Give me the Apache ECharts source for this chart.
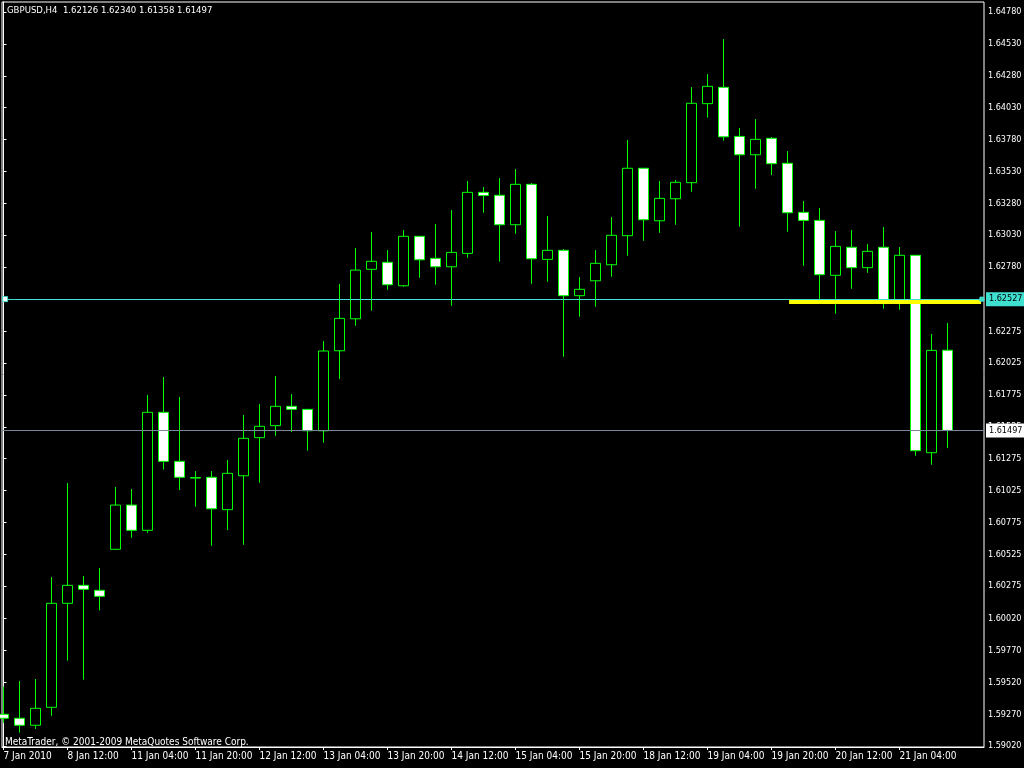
<!DOCTYPE html>
<html>
<head>
<meta charset="utf-8">
<script src="https://cdn.jsdelivr.net/npm/echarts@6/dist/echarts.min.js"></script>
<style>
html,body{margin:0;padding:0;background:#000;}
#chart{width:1024px;height:768px;}
</style>
</head>
<body>
<div id="chart"></div>
<script>
// GBPUSD H4 bars: index, open, close, low, high
const barIndex = [];
for (let i = 0; i < 60; i++) barIndex.push(i);
const opens = [1.59269,1.59238,1.59183,1.59324,1.60140,1.60281,1.60242,1.60564,1.60911,1.60713,
  1.61639,1.61254,1.61127,1.61129,1.60875,1.61141,1.61440,1.61534,1.61686,1.61662,
  1.61494,1.62122,1.62373,1.62761,1.62816,1.62632,1.63020,1.62847,1.62781,1.62886,
  1.63365,1.63342,1.63111,1.63428,1.62839,1.62910,1.62554,1.62671,1.62797,1.63025,
  1.63554,1.63142,1.63315,1.63441,1.64061,1.64189,1.63804,1.63660,1.63789,1.63593,
  1.63208,1.63145,1.62714,1.62934,1.62774,1.62934,1.62516,1.62871,1.61322,1.62126];
const closes = [1.59238,1.59183,1.59316,1.60140,1.60281,1.60250,1.60195,1.60911,1.60713,1.61639,
  1.61254,1.61129,1.61123,1.60882,1.61160,1.61435,1.61529,1.61686,1.61662,1.61494,
  1.62120,1.62376,1.62755,1.62824,1.62640,1.63020,1.62836,1.62781,1.62894,1.63365,
  1.63340,1.63111,1.63428,1.62844,1.62910,1.62554,1.62604,1.62808,1.63028,1.63554,
  1.63150,1.63318,1.63444,1.64064,1.64197,1.63801,1.63660,1.63781,1.63590,1.63205,
  1.63145,1.62719,1.62941,1.62774,1.62902,1.62516,1.62871,1.61338,1.62125,1.61497];
const lows = [1.59201,1.59125,1.59154,1.59258,1.59690,1.59541,1.60085,1.60558,1.60655,1.60694,
  1.61190,1.61029,1.60898,1.60592,1.60715,1.60600,1.61086,1.61455,1.61484,1.61338,
  1.61400,1.61900,1.62318,1.62436,1.62601,1.62624,1.62695,1.62640,1.62475,1.62852,
  1.63205,1.62821,1.63040,1.62648,1.62664,1.62075,1.62389,1.62467,1.62703,1.62868,
  1.62985,1.63048,1.63111,1.63370,1.63951,1.63770,1.63095,1.63393,1.63501,1.63056,
  1.62789,1.62520,1.62413,1.62609,1.62734,1.62452,1.62444,1.61298,1.61228,1.61358];
const highs = [1.59486,1.59530,1.59546,1.60346,1.61084,1.60354,1.60417,1.61053,1.61037,1.61775,
  1.61916,1.61759,1.61178,1.61178,1.61265,1.61618,1.61704,1.61924,1.61782,1.61666,
  1.62198,1.62646,1.62928,1.63054,1.62912,1.63069,1.63022,1.63116,1.63226,1.63454,
  1.63407,1.63477,1.63548,1.63438,1.63179,1.62920,1.62700,1.62912,1.63171,1.63776,
  1.63556,1.63454,1.63462,1.64191,1.64293,1.64568,1.63870,1.63940,1.63799,1.63689,
  1.63297,1.63242,1.63061,1.63069,1.62959,1.63093,1.62936,1.62873,1.62253,1.62340];

// Time axis labels (every 4 bars)
const timeLabelBars = [0,4,8,12,16,20,24,28,32,36,40,44,48,52,56];
const timeLabels = ['7 Jan 2010','8 Jan 12:00','11 Jan 04:00','11 Jan 20:00','12 Jan 12:00',
  '13 Jan 04:00','13 Jan 20:00','14 Jan 12:00','15 Jan 04:00','15 Jan 20:00',
  '18 Jan 12:00','19 Jan 04:00','19 Jan 20:00','20 Jan 12:00','21 Jan 04:00'];

// Price tick labels
const priceTicks = [1.64780,1.64530,1.64280,1.64030,1.63780,1.63530,1.63280,1.63030,1.62780,
  1.62275,1.62025,1.61775,1.61525,1.61275,1.61025,1.60775,1.60525,1.60275,1.60020,
  1.59770,1.59520,1.59270,1.59020];

// Horizontal levels
const levelLine = 1.62527;
const bidLine = 1.61497;
const yellowLevel = 1.62505;
const yellowFrom = 49.1, yellowTo = 61.1;

const symbolName = 'GBPUSD,H4';
const copyright = 'MetaTrader, \u00a9 2001-2009 MetaQuotes Software Corp.';

const ohlc = barIndex.map((x, i) => [x, opens[i], closes[i], lows[i], highs[i]]);
const last = ohlc.length - 1;
const headerText = symbolName + '  ' + opens[last].toFixed(5) + ' ' + highs[last].toFixed(5) + ' ' +
  lows[last].toFixed(5) + ' ' + closes[last].toFixed(5);

const GREEN = '#00ff00';
const CYAN = '#40e0d0';
const GRAY = '#778899';
const FONT = '"DejaVu Sans Condensed", "DejaVu Sans", "Liberation Sans", sans-serif';
const NARROW = '"DejaVu Sans Condensed", "Liberation Sans", sans-serif';

const xMin = -0.09375;
const xMax = xMin + 982 / 16;

const chart = echarts.init(document.getElementById('chart'), null, {renderer: 'canvas'});
chart.setOption({
  backgroundColor: '#000000',
  animation: false,
  title: [
    {text: headerText, left: 7, top: 6, padding: 0,
     textStyle: {color: '#ffffff', fontSize: 9.5, fontWeight: 'normal', fontFamily: FONT}},
    {text: copyright, left: 5, top: 737, padding: 0,
     textStyle: {color: '#ffffff', fontSize: 10, fontWeight: 'normal', fontFamily: NARROW}}
  ],
  grid: {left: 2, right: 40, top: 2, bottom: 21, outerBoundsMode: 'none', containLabel: false,
         show: true, borderColor: '#ffffff', borderWidth: 1, backgroundColor: 'transparent'},
  xAxis: {
    type: 'value', min: xMin, max: xMax,
    splitLine: {show: false},
    axisLine: {show: true, onZero: false, lineStyle: {color: '#ffffff', width: 1}},
    axisTick: {show: true, length: 3, lineStyle: {color: '#ffffff'}, customValues: timeLabelBars},
    axisLabel: {
      color: '#ffffff', fontSize: 10, fontFamily: NARROW, margin: 4, align: 'left',
      customValues: timeLabelBars, showMinLabel: true, showMaxLabel: true,
      formatter: function (v) { const k = timeLabelBars.indexOf(Math.round(v)); return k >= 0 ? timeLabels[k] : ''; }
    }
  },
  yAxis: {
    type: 'value', position: 'right', min: 1.590125, max: 1.648588, scale: true,
    splitLine: {show: false},
    axisLine: {show: true, lineStyle: {color: '#ffffff', width: 1}},
    axisTick: {show: true, length: 3, lineStyle: {color: '#ffffff'}, customValues: priceTicks},
    axisLabel: {
      color: '#ffffff', fontSize: 9, fontFamily: FONT, margin: 4,
      customValues: priceTicks, showMinLabel: true, showMaxLabel: true,
      formatter: function (v) { return v.toFixed(5); }
    }
  },
  series: [{
    type: 'candlestick',
    data: ohlc,
    encode: {x: 0, y: [1, 2, 3, 4]},
    barWidth: 10,
    clip: true,
    itemStyle: {
      color: '#000000', color0: '#ffffff',
      borderColor: GREEN, borderColor0: GREEN, borderColorDoji: GREEN, borderWidth: 1
    },
    markLine: {
      silent: true, symbol: 'none', animation: false,
      data: [
        [{coord: [xMin, levelLine], lineStyle: {color: CYAN, width: 1, type: 'solid'},
          label: {show: true, position: 'end', distance: 2, formatter: levelLine.toFixed(5),
                  color: '#000000', backgroundColor: CYAN, padding: [3, 4, 2, 3], fontSize: 9, fontFamily: FONT}},
         {coord: [xMax, levelLine]}],
        [{coord: [xMin, bidLine], lineStyle: {color: GRAY, width: 1, type: 'solid'},
          label: {show: true, position: 'end', distance: 2, formatter: bidLine.toFixed(5),
                  color: '#000000', backgroundColor: '#ffffff', padding: [3, 4, 2, 3], fontSize: 9, fontFamily: FONT}},
         {coord: [xMax, bidLine]}],
        [{coord: [yellowFrom, yellowLevel], lineStyle: {color: '#ffff00', width: 4, type: 'solid'}, label: {show: false}},
         {coord: [yellowTo, yellowLevel]}]
      ]
    },
    markPoint: {
      silent: true, animation: false,
      data: [
        {coord: [0.1, levelLine], symbol: 'rect', symbolSize: 5,
         itemStyle: {color: '#ffffff', borderColor: CYAN, borderWidth: 1}, label: {show: false}},
        {coord: [61.15, levelLine], symbol: 'rect', symbolSize: 4,
         itemStyle: {color: CYAN, borderColor: CYAN, borderWidth: 1}, label: {show: false}}
      ]
    }
  }]
});
</script>
</body>
</html>
